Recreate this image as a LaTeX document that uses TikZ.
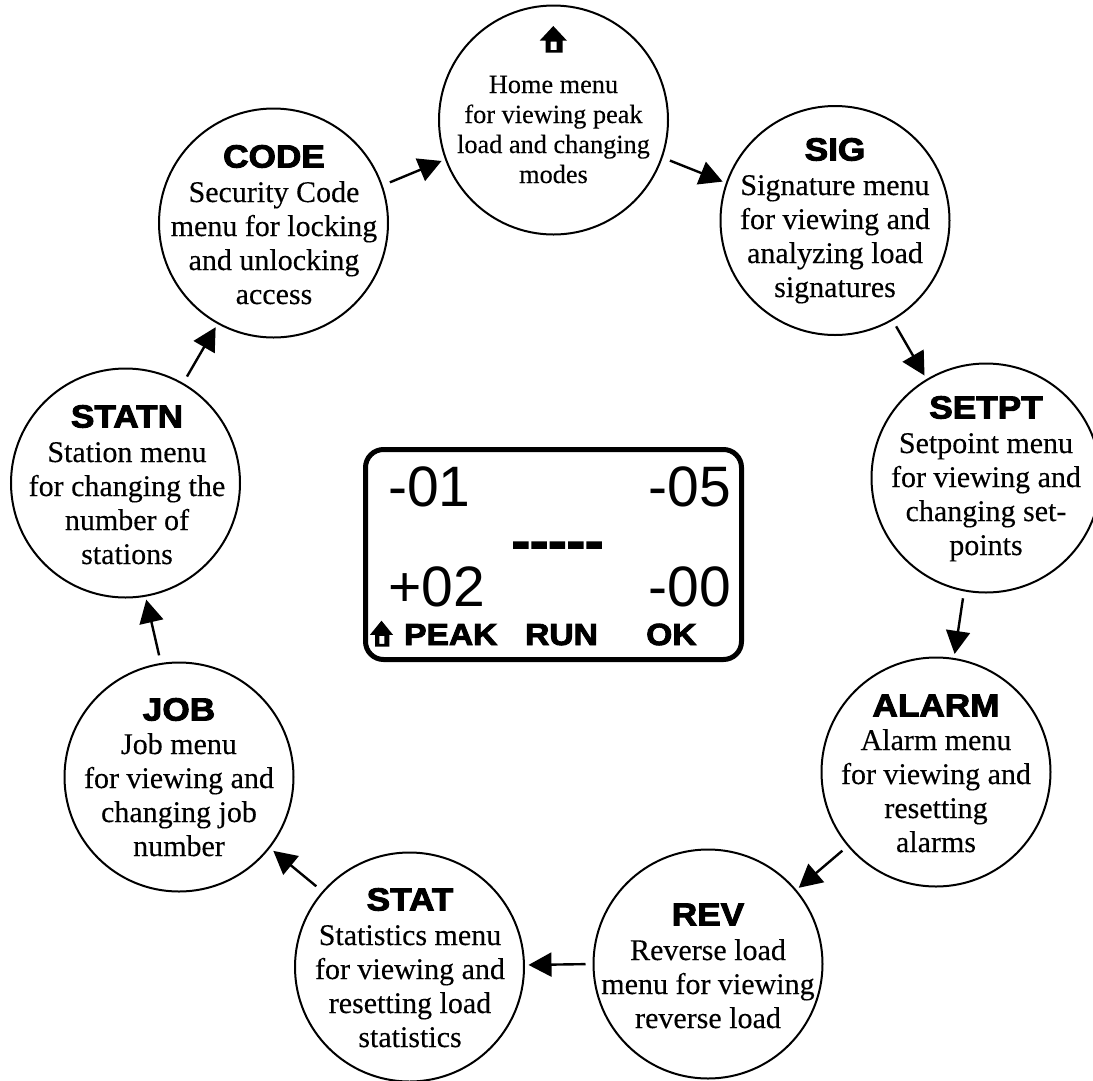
\documentclass[tikz,border=0pt]{standalone}
\usepackage{fontspec}
\usetikzlibrary{arrows.meta}
\setmainfont{Liberation Serif}
\newfontfamily\bodyfont[FakeBold=0.25]{Liberation Serif}
\newfontfamily\numfont{Liberation Sans}
\newfontfamily\lcdfont[FakeBold=3,FakeStretch=1.1]{Liberation Sans Bold}
\tikzset{
  menucircle/.style={circle,draw=black,line width=2pt,minimum size=229pt,inner sep=0pt,outer sep=0pt},
  bodytext/.style={anchor=base,inner sep=0pt,text width=226pt,align=flush center,font=\bodyfont\fontsize{30}{34}\selectfont},
  hometext/.style={bodytext,font=\bodyfont\fontsize{26.3}{30}\selectfont},
  titletext/.style={anchor=base,inner sep=0pt,font=\lcdfont\fontsize{32}{32}\selectfont},
  flow/.style={line width=2.4pt,-{Triangle[length=23pt,width=24pt]}},
  display/.style={draw=black,line width=5pt,rounded corners=18pt,minimum width=376pt,minimum height=210pt,inner sep=0pt,outer sep=0pt},
  readout/.style={inner sep=0pt,font=\numfont\fontsize{57}{57}\selectfont},
  softkey/.style={anchor=base west,inner sep=0pt,font=\lcdfont\fontsize{30.5}{31}\selectfont},
  pics/homeicon/.style={code={
    \fill[black,even odd rule] (0,0)--(13.7,14.7)--(9.4,14.7)--(9.4,26.7)--(-7.6,26.7)--(-7.6,14.7)--(-13.7,14.7)--cycle
      (-2.6,15.7)--(3.4,15.7)--(3.4,24)--(-2.6,24)--cycle;
  }}
}
\begin{document}
\begin{tikzpicture}[x=1pt,y=-1pt]
\useasboundingbox (0,0) rectangle (1093,1080);
\clip (0,0) rectangle (1093,1080);
% circles
\node[menucircle] (home) at (553.5,120) {};
\node[menucircle] (sig) at (835,220.5) {};
\node[menucircle] (setpt) at (986,478) {};
\node[menucircle] (alarm) at (936,772) {};
\node[menucircle] (rev) at (708,964) {};
\node[menucircle] (stat) at (409.5,967) {};
\node[menucircle] (job) at (179,777) {};
\node[menucircle] (statn) at (125.5,483) {};
\node[menucircle] (code) at (273.5,223) {};
% home
\pic at (553.3,26) {homeicon};
\node[hometext] (homebody) at (553.5,93) {Home menu\\for viewing peak\\load and changing\\modes};
% titles
\node[titletext] (sigtitle) at (835,160.5) {SIG};
\node[titletext] (setpttitle) at (986,418.5) {SETPT};
\node[titletext] (alarmtitle) at (936,716.5) {ALARM};
\node[titletext] (revtitle) at (708,925.5) {REV};
\node[titletext] (stattitle) at (410,910.5) {STAT};
\node[titletext] (jobtitle) at (179,720.5) {JOB};
\node[titletext] (statntitle) at (127,427.5) {STATN};
\node[titletext] (codetitle) at (274,167.5) {CODE};
% bodies
\node[bodytext] (sigbody) at (835,195) {Signature menu\\for viewing and\\analyzing load\\signatures};
\node[bodytext] (setptbody) at (986,453) {Setpoint menu\\for viewing and\\changing set-\\points};
\node[bodytext] (alarmbody) at (936,750) {Alarm menu\\for viewing and\\resetting\\alarms};
\node[bodytext] (revbody) at (708,960) {Reverse load\\menu for viewing\\reverse load};
\node[bodytext] (statbody) at (410,945) {Statistics menu\\for viewing and\\resetting load\\statistics};
\node[bodytext] (jobbody) at (179,754) {Job menu\\for viewing and\\changing job\\number};
\node[bodytext] (statnbody) at (127,462) {Station menu\\for changing the\\number of\\stations};
\node[bodytext] (codebody) at (274,202) {Security Code\\menu for locking\\and unlocking\\access};
% connectors
\draw[flow,shorten <=8.8pt,shorten >=4.7pt] (code.19.8) -- (home.200.9);
\draw[flow,shorten <=8.8pt,shorten >=4.4pt] (home.-19.8) -- (sig.161.2);
\draw[flow,shorten <=7.7pt,shorten >=5pt] (sig.-60.2) -- (setpt.121);
\draw[flow,shorten <=8pt,shorten >=5pt] (setpt.259.7) -- (alarm.81.4);
\draw[flow,shorten <=7.8pt,shorten >=4pt] (alarm.220) -- (rev.40.9);
\draw[flow,shorten <=8pt,shorten >=4.5pt] (rev.180.5) -- (stat.1.4);
\draw[flow,shorten <=8.8pt,shorten >=5.3pt] (stat.139.7) -- (job.-38.6);
\draw[flow,shorten <=8.8pt,shorten >=4pt] (job.99.8) -- (statn.280.9);
\draw[flow,shorten <=8.4pt,shorten >=4.7pt] (statn.60.1) -- (code.241.3);
% display
\node[display] (lcd) at (553.5,554.5) {};
\node[readout,anchor=base west] (ra) at (388,506) {-01};
\node[readout,anchor=base east] (rb) at (731,506) {-05};
\node[readout,anchor=base west] (rc) at (388,606) {+02};
\node[readout,anchor=base east] (rd) at (731,606) {-00};
\node[anchor=base,inner sep=0pt,font=\lcdfont\fontsize{50}{50}\selectfont] (dashes) at (557.5,558) {-----};
\pic[xscale=.85,yscale=.97] at (381.5,620.7) {homeicon};
\node[softkey] (peak) at (404,645) {PEAK};
\node[softkey] (runkey) at (525,645) {RUN};
\node[softkey] (okkey) at (646,645) {OK};
\end{tikzpicture}
\end{document}
